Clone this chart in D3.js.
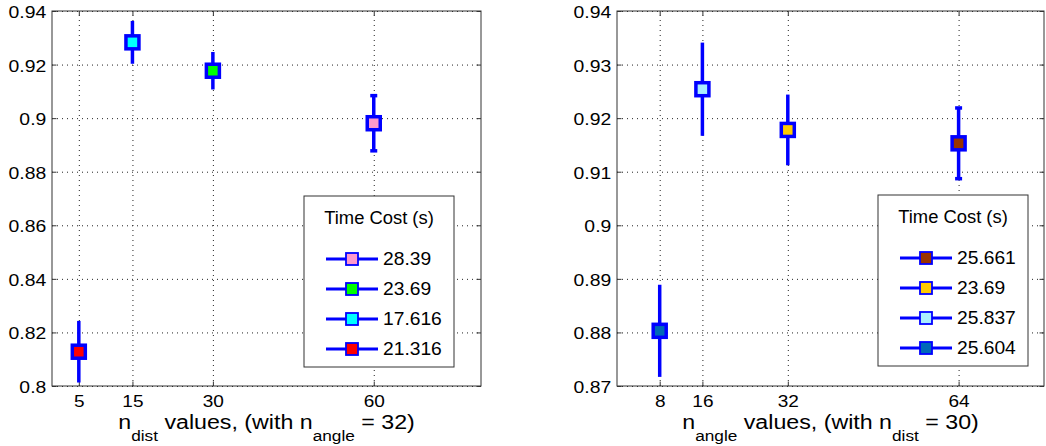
<!DOCTYPE html>
<html>
<head>
<meta charset="utf-8">
<script src="https://cdn.jsdelivr.net/npm/d3@7"></script>
<style>
  html, body { margin: 0; padding: 0; background: #fff; }
  svg { display: block; font-family: "Liberation Sans", Arial, Helvetica, sans-serif; }
  .grid line { stroke: #222; stroke-dasharray: 1 4; stroke-width: 1; }
  .grid .domain { display: none; }
  .axis .domain { display: none; }
  .axis line { stroke: #333; }
  .axis text { fill: #000; font-size: 17px; }
</style>
</head>
<body>
<svg id="chart" width="1046" height="446"></svg>
<script>
// Left panel: accuracy vs n_dist (n_angle = 32)
const distValues = [5, 15, 30, 60];
const distMean   = [0.8128, 0.9283, 0.9177, 0.8981];
const distErr    = [0.0115, 0.0080, 0.0070, 0.0103];
const distTime   = ["21.316", "17.616", "23.69", "28.39"];
const distFill   = ["#ff0000", "#00ffff", "#00ff00", "#ff99cc"];
const distYTicks = [0.8, 0.82, 0.84, 0.86, 0.88, 0.9, 0.92, 0.94];

// Right panel: accuracy vs n_angle (n_dist = 30)
const angleValues = [8, 16, 32, 64];
const angleMean   = [0.8803, 0.9254, 0.9178, 0.9153];
const angleErr    = [0.0086, 0.0087, 0.0066, 0.0066];
const angleTime   = ["25.604", "25.837", "23.69", "25.661"];
const angleFill   = ["#0068b8", "#aaeeff", "#ffcc00", "#993300"];
const angleYTicks = [0.87, 0.88, 0.89, 0.9, 0.91, 0.92, 0.93, 0.94];

const BLUE = "#0000ff";
const svg = d3.select("#chart");
const fmtY = d => String(+d.toFixed(2));

function panel(cfg) {
  const { left, right, top, bottom } = cfg.box;
  const g = svg.append("g");
  const x = d3.scaleLinear().domain([0, 80]).range([left, right]);
  const y = d3.scaleLinear().domain(cfg.yDomain).range([bottom, top]);
  const h = bottom - top, w = right - left;

  // dotted grid
  g.append("g").attr("class", "grid").attr("transform", `translate(0,${bottom})`)
    .call(d3.axisBottom(x).tickValues(cfg.xs).tickSize(-h).tickFormat(""));
  g.append("g").attr("class", "grid").attr("transform", `translate(${left},0)`)
    .call(d3.axisLeft(y).tickValues(cfg.yTicks).tickSize(-w).tickFormat(""));

  // box
  g.append("rect").attr("x", left).attr("y", top).attr("width", w).attr("height", h)
    .attr("fill", "none").attr("stroke", "#333").attr("stroke-width", 1);

  // axes, ticks pointing inward
  const gx = g.append("g").attr("class", "axis").attr("transform", `translate(0,${bottom})`)
    .call(d3.axisBottom(x).tickValues(cfg.xs).tickSizeInner(-4.5).tickSizeOuter(0).tickPadding(8.5));
  gx.selectAll("text").attr("transform", "scale(1.12,1)");
  g.append("g").attr("class", "axis").attr("transform", `translate(0,${top})`)
    .call(d3.axisTop(x).tickValues(cfg.xs).tickSizeInner(-4.5).tickSizeOuter(0).tickFormat(""));
  const gy = g.append("g").attr("class", "axis").attr("transform", `translate(${left},0)`)
    .call(d3.axisLeft(y).tickValues(cfg.yTicks).tickSizeInner(-4.5).tickSizeOuter(0).tickPadding(5).tickFormat(fmtY));
  gy.selectAll("text").attr("transform", "scale(1.14,1)").attr("dy", "0.38em");
  g.append("g").attr("class", "axis").attr("transform", `translate(${right},0)`)
    .call(d3.axisRight(y).tickValues(cfg.yTicks).tickSizeInner(-4.5).tickSizeOuter(0).tickFormat(""));

  // error bars + markers
  const pts = cfg.xs.map((v, i) => ({ v, m: cfg.mean[i], e: cfg.err[i], fill: cfg.fill[i], cap: i === cfg.xs.length - 1 }));
  const pg = g.append("g").selectAll("g").data(pts).join("g");
  pg.append("line")
    .attr("x1", d => x(d.v)).attr("x2", d => x(d.v))
    .attr("y1", d => y(d.m - d.e)).attr("y2", d => y(d.m + d.e))
    .attr("stroke", BLUE).attr("stroke-width", 3.5);
  pg.filter(d => d.cap).selectAll("line.cap")
    .data(d => [{ d, yy: d.m - d.e }, { d, yy: d.m + d.e }]).join("line").attr("class", "cap")
    .attr("x1", c => x(c.d.v) - 3.5).attr("x2", c => x(c.d.v) + 3.5)
    .attr("y1", c => y(c.yy)).attr("y2", c => y(c.yy))
    .attr("stroke", BLUE).attr("stroke-width", 3.5);
  pg.append("rect")
    .attr("x", d => x(d.v) - 6.5).attr("y", d => y(d.m) - 6.5)
    .attr("width", 13).attr("height", 13)
    .attr("fill", d => d.fill).attr("stroke", BLUE).attr("stroke-width", 3.5);

  // x label with subscripts
  const lbl = g.append("text").attr("transform", `translate(${(left + right) / 2},428.5) scale(1.19,1)`)
    .attr("text-anchor", "middle").attr("font-size", 19.5).attr("fill", "#000");
  cfg.label.forEach(([s, sub], i) => {
    const prevSub = i > 0 && cfg.label[i - 1][1];
    lbl.append("tspan").text(s)
      .attr("font-size", sub ? 14.5 : 19.5)
      .attr("dy", sub ? 12.5 : (prevSub ? -12.5 : 0));
  });

  // legend
  const lx = right - cfg.legend.right - 150, ly = top + cfg.legend.top;
  const lg = g.append("g").attr("transform", `translate(${lx},${ly})`);
  lg.append("rect").attr("width", 150).attr("height", 171)
    .attr("fill", "#fff").attr("stroke", "#333").attr("stroke-width", 1);
  lg.append("text").attr("transform", "translate(75,28) scale(1.05,1)")
    .attr("text-anchor", "middle").attr("font-size", 17.5).text("Time Cost (s)");
  const order = d3.range(pts.length).reverse();
  const rows = lg.selectAll("g.row").data(order).join("g").attr("class", "row")
    .attr("transform", (d, k) => `translate(0,${63 + k * 30})`);
  rows.append("line").attr("x1", 22).attr("x2", 74).attr("stroke", BLUE).attr("stroke-width", 3);
  rows.append("rect").attr("x", 42).attr("y", -6).attr("width", 12).attr("height", 12)
    .attr("fill", i => cfg.fill[i]).attr("stroke", BLUE).attr("stroke-width", 1.8);
  rows.append("text").attr("transform", "translate(79,6) scale(1.1,1)")
    .attr("font-size", 17.5).text(i => cfg.time[i]);
}

panel({
  box: { left: 52, right: 481, top: 11, bottom: 386 },
  yDomain: [0.8, 0.94], yTicks: distYTicks,
  xs: distValues, mean: distMean, err: distErr, fill: distFill, time: distTime,
  label: [["n", false], ["dist", true], [" values, (with n", false], ["angle", true], [" = 32)", false]],
  legend: { right: 27, top: 185 }
});

panel({
  box: { left: 617, right: 1044, top: 11, bottom: 386 },
  yDomain: [0.87, 0.94], yTicks: angleYTicks,
  xs: angleValues, mean: angleMean, err: angleErr, fill: angleFill, time: angleTime,
  label: [["n", false], ["angle", true], [" values, (with n", false], ["dist", true], [" = 30)", false]],
  legend: { right: 16, top: 184 }
});
</script>
</body>
</html>
